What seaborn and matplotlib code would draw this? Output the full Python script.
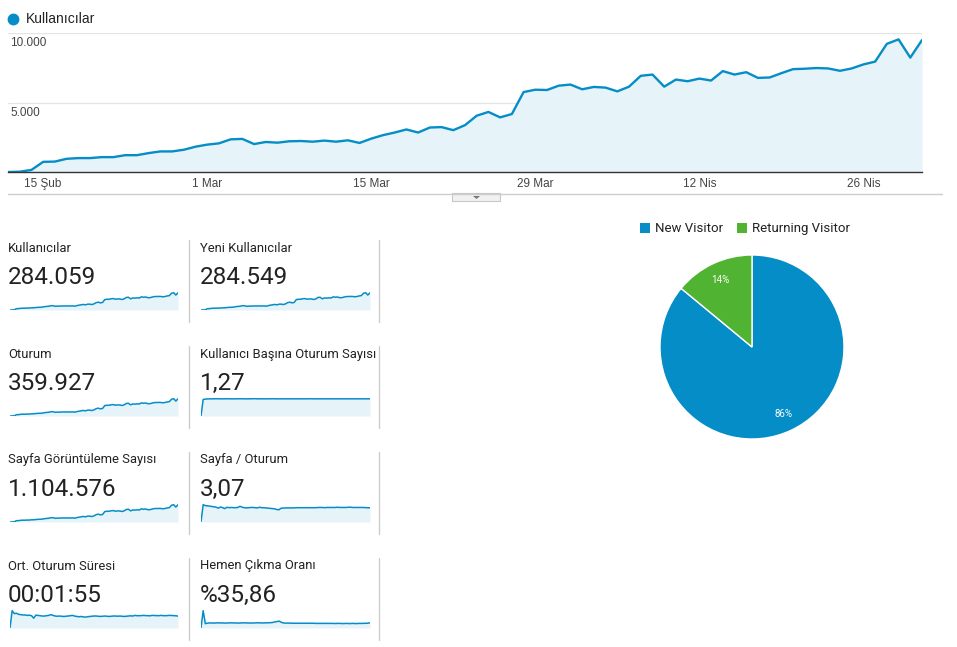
import numpy as np
import pandas as pd
import seaborn as sns
import matplotlib.pyplot as plt
from matplotlib.lines import Line2D
from matplotlib.patches import Rectangle, Polygon

W, H = 957, 647
BLUE = '#058dc7'
GREEN = '#50b432'
FILL = '#e6f3f9'

# daily users, 12 Şub - 1 May
users = [0, 20, 150, 730, 750, 950, 1000, 1000, 1070, 1070,
         1210, 1210, 1360, 1480, 1480, 1600, 1820, 1970, 2060, 2350,
         2380, 2010, 2160, 2110, 2210, 2230, 2180, 2260, 2180, 2280,
         2090, 2400, 2650, 2840, 3060, 2840, 3200, 3230, 3010, 3370,
         4050, 4320, 3930, 4170, 5750, 5920, 5900, 6210, 6290, 5950,
         6120, 6070, 5800, 6140, 6920, 7010, 6140, 6650, 6530, 6720,
         6580, 7260, 7010, 7180, 6770, 6800, 7110, 7400, 7430, 7480,
         7450, 7280, 7450, 7740, 7940, 9220, 9540, 8230, 9490]
tick_days = [3, 17, 31, 45, 59, 73]
tick_labels = ['15 Şub', '1 Mar', '15 Mar', '29 Mar', '12 Nis', '26 Nis']
y_ticks = [5000, 10000]
y_labels = ['5.000', '10.000']

sessions_per_user = [0, 1.22, 1.25, 1.26, 1.27, 1.27, 1.27, 1.28, 1.27, 1.27,
                     1.27, 1.27, 1.28, 1.27, 1.27, 1.27, 1.27, 1.27, 1.28, 1.27,
                     1.27, 1.27, 1.27, 1.27, 1.28, 1.28, 1.27, 1.27, 1.27, 1.27,
                     1.27, 1.27, 1.27, 1.28, 1.27, 1.27, 1.27, 1.27, 1.27, 1.27,
                     1.27, 1.27, 1.27, 1.27, 1.27, 1.27, 1.27, 1.27, 1.27, 1.27,
                     1.28, 1.27, 1.27, 1.27, 1.27, 1.27, 1.27, 1.27, 1.27, 1.27,
                     1.27, 1.27, 1.27, 1.27, 1.27, 1.27, 1.27, 1.27, 1.27, 1.27,
                     1.27, 1.27, 1.27, 1.27, 1.27, 1.27, 1.27, 1.27, 1.27]
pages_per_session = [0, 3.75, 3.55, 3.5, 3.45, 3.35, 3.3, 3.2, 3.0, 3.25,
                     3.1, 2.9, 3.2, 3.1, 3.15, 3.1, 3.1, 3.15, 3.4, 3.2,
                     3.1, 3.05, 3.1, 3.15, 3.15, 3.1, 3.05, 3.2, 3.1, 3.1,
                     3.05, 3.0, 2.95, 2.9, 2.85, 2.7, 2.65, 3.0, 3.0, 3.05,
                     3.05, 3.05, 3.05, 3.05, 3.1, 3.1, 3.1, 3.1, 3.1, 3.1,
                     3.1, 3.1, 3.1, 3.1, 3.15, 3.15, 3.15, 3.1, 3.15, 3.15,
                     3.15, 3.15, 3.15, 3.2, 3.15, 3.15, 3.15, 3.15, 3.2, 3.2,
                     3.15, 3.15, 3.15, 3.15, 3.15, 3.15, 3.1, 3.1, 3.05]
avg_duration = [0, 162, 135, 138, 128, 125, 122, 122, 118, 120,
                115, 92, 120, 118, 115, 112, 112, 115, 118, 125,
                118, 112, 110, 112, 110, 108, 110, 112, 115, 118,
                112, 108, 105, 108, 104, 102, 105, 108, 110, 112,
                112, 110, 108, 110, 112, 110, 108, 110, 112, 112,
                110, 112, 110, 108, 110, 112, 114, 112, 118, 115,
                115, 116, 118, 116, 115, 114, 118, 117, 116, 115,
                118, 116, 115, 116, 118, 117, 116, 114, 112]
bounce_rate = [20, 80, 35, 37, 37.5, 37.5, 37, 37.5, 38, 37.5,
               37.5, 37, 37.5, 37.5, 38, 37.5, 37.5, 37, 37.5, 37.5,
               38, 37.5, 37.5, 37, 37.5, 37.5, 38, 38, 37.5, 37.5,
               38, 38, 38.5, 39, 41, 42, 44, 40, 37.5, 37,
               37, 37, 36.5, 36.5, 36.5, 36.5, 36.5, 36.5, 36.5, 36.5,
               36.5, 36.5, 36.5, 36, 36, 36, 36, 36, 36, 36,
               36, 36, 35.5, 36, 36, 35.5, 35.5, 36, 35.5, 35.5,
               36, 35.5, 35.5, 36, 36, 36, 36.5, 36.5, 38]

card_titles = ['Kullanıcılar', 'Yeni Kullanıcılar', 'Oturum', 'Kullanıcı Başına Oturum Sayısı',
               'Sayfa Görüntüleme Sayısı', 'Sayfa / Oturum', 'Ort. Oturum Süresi', 'Hemen Çıkma Oranı']
card_values = ['284.059', '284.549', '359.927', '1,27',
               '1.104.576', '3,07', '00:01:55', '%35,86']
# count metrics share the same daily shape as users
card_series = [users, users, users, sessions_per_user,
               users, pages_per_session, avg_duration, bounce_rate]

pie_labels = ['New Visitor', 'Returning Visitor']
pie_values = [86, 14]

sns.set_style('white')
plt.rcParams['font.family'] = ['Roboto', 'DejaVu Sans']

fig = plt.figure(figsize=(W / 100, H / 100), dpi=100)


def box(x0, y0, x1, y1):
    return [x0 / W, 1 - y1 / H, (x1 - x0) / W, (y1 - y0) / H]


def ptext(x, y, s, **kw):
    fig.text(x / W, 1 - y / H, s, **kw)


def pline(xs, ys, **kw):
    fig.add_artist(Line2D([x / W for x in xs], [1 - y / H for y in ys],
                          transform=fig.transFigure, **kw))


# main users chart
df = pd.DataFrame({'day': np.arange(len(users)), 'users': users})
ax = fig.add_axes(box(8, 33, 922, 172))
ax.fill_between(df['day'], df['users'], 0, color=FILL, lw=0)
for v in y_ticks:
    ax.axhline(v, color='#e4e4e4', lw=0.9, zorder=0)
sns.lineplot(data=df, x='day', y='users', ax=ax, color=BLUE, lw=1.7)
ax.set_xlim(0, len(users) - 1)
ax.set_ylim(0, 10000)
for s in ['top', 'left', 'right']:
    ax.spines[s].set_visible(False)
ax.spines['bottom'].set_color('#333333')
ax.spines['bottom'].set_linewidth(1.0)
ax.set_xticks(tick_days, tick_labels)
ax.set_yticks([])
ax.tick_params(axis='x', length=0, pad=4, labelsize=8.5, labelcolor='#444444')
for lab in ax.get_xticklabels():
    lab.set_family(['Liberation Sans', 'DejaVu Sans'])
ax.set_xlabel('')
ax.set_ylabel('')
for v, lab in zip(y_ticks, y_labels):
    ax.annotate(lab, xy=(0, v), xycoords=('axes fraction', 'data'), xytext=(1.5, -3),
                textcoords='offset points', va='top', ha='left', fontsize=8.5,
                color='#444444', family=['Liberation Sans', 'DejaVu Sans'])

# series legend
fig.add_artist(Line2D([13 / W], [1 - 19 / H], marker='o', markersize=7.5, color=BLUE,
                      lw=0, transform=fig.transFigure))
ptext(26, 19, 'Kullanıcılar', fontsize=10, va='center', color='#222222',
      family=['Liberation Sans', 'DejaVu Sans'])

# divider with toggle tab
pline([8, 942], [193.5, 193.5], color='#cccccc', lw=1)
fig.add_artist(Rectangle((452 / W, 1 - 201 / H), 48 / W, 8 / H, transform=fig.transFigure,
                         facecolor='#f1f1f1', edgecolor='#c8c8c8', lw=0.8))
fig.add_artist(Polygon([[473 / W, 1 - 196 / H], [480 / W, 1 - 196 / H], [476.5 / W, 1 - 199 / H]],
                       closed=True, transform=fig.transFigure, facecolor='#777777', lw=0))

# scorecards
col_x = [8, 200]
spark_x = [(10, 178), (201, 370)]
for k, (title, value, series) in enumerate(zip(card_titles, card_values, card_series)):
    row, col = divmod(k, 2)
    ty = 248 + 106 * row
    ptext(col_x[col], ty, title, fontsize=9.4, va='center', color='#222222')
    ptext(col_x[col], ty + 29, value, fontsize=17.5, va='center', color='#222222')
    sx0, sx1 = spark_x[col]
    sax = fig.add_axes(box(sx0, ty + 44, sx1, ty + 62))
    sd = pd.DataFrame({'i': np.arange(len(series)), 'v': series})
    lo, hi = sd['v'].min(), sd['v'].max()
    sax.fill_between(sd['i'], sd['v'], lo, color=FILL, lw=0)
    sns.lineplot(data=sd, x='i', y='v', ax=sax, color=BLUE, lw=1.1)
    sax.set_xlim(0, len(series) - 1)
    sax.set_ylim(lo, hi + 0.04 * (hi - lo))
    sax.axis('off')

for row in range(4):
    ty = 248 + 106 * row
    for sx in [189, 379]:
        pline([sx, sx], [ty - 8, ty + 74], color='#cccccc', lw=1)

# visitor pie
pax = fig.add_axes(box(660, 255, 844, 439))
wedges, texts, autotexts = pax.pie(pie_values, colors=[BLUE, GREEN], startangle=90,
                                   counterclock=False, autopct='%d%%', pctdistance=0.8,
                                   wedgeprops=dict(edgecolor='white', linewidth=1),
                                   textprops=dict(color='white', fontsize=7))
pax.set_xlim(-1, 1)
pax.set_ylim(-1, 1)
pax.set_aspect('equal')

leg_x = [640, 737]
for lx, lab, c in zip(leg_x, pie_labels, [BLUE, GREEN]):
    fig.add_artist(Rectangle((lx / W, 1 - 233 / H), 10 / W, 10 / H,
                             transform=fig.transFigure, facecolor=c, lw=0))
    ptext(lx + 15, 228, lab, fontsize=9.5, va='center', color='#222222')

fig.savefig('out.png', dpi=100)
